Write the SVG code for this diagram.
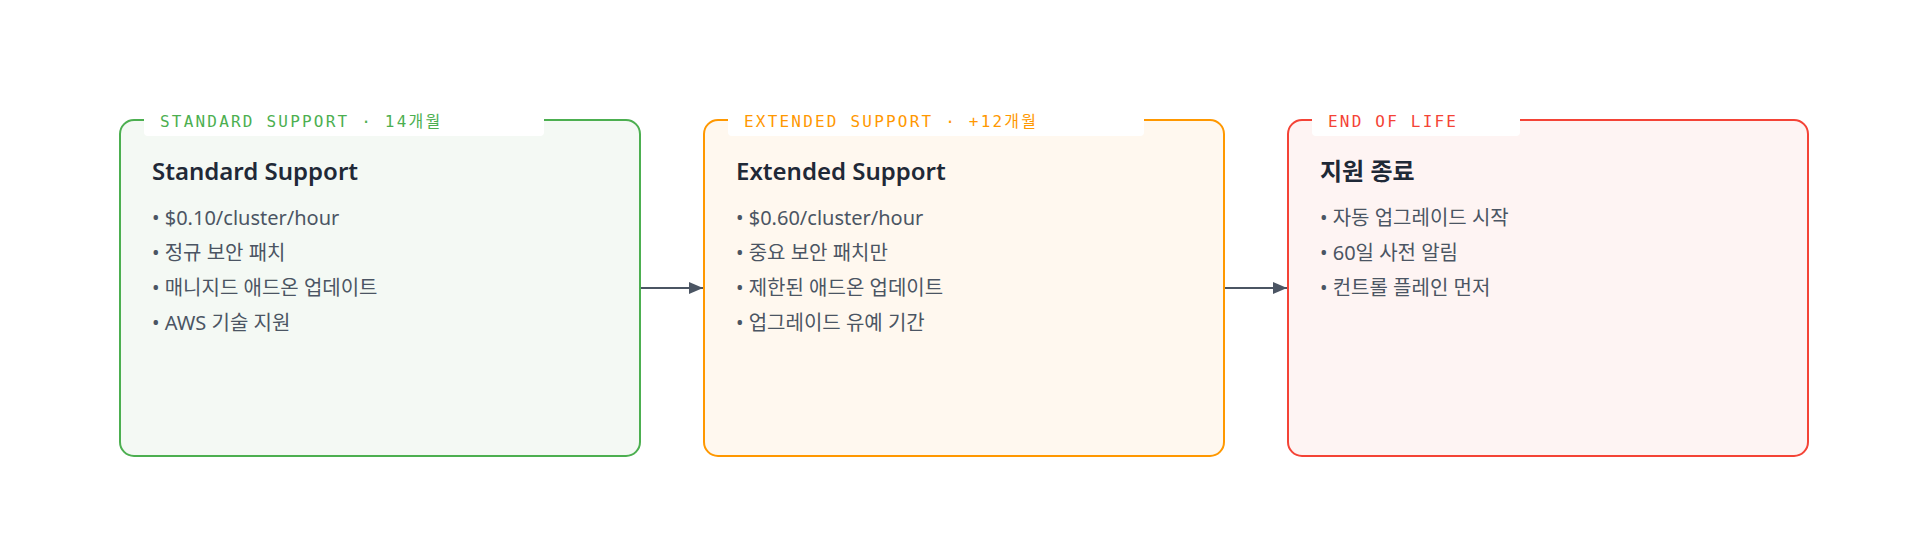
<svg xmlns="http://www.w3.org/2000/svg" width="1920" height="536" viewBox="0 0 1920 536">
  <defs>
    <style>
      .box { stroke-width: 2; }
      .tagbg { fill: #ffffff; }
      .tag { font-family: "DejaVu Sans Mono", "Noto Sans CJK KR", monospace; font-size: 16px; letter-spacing: 2.2px; }
      .title { font-family: "Noto Sans", "Noto Sans CJK KR", sans-serif; font-size: 24px; font-weight: 600; fill: #1f2937; }
      .item { font-family: "Noto Sans", "Noto Sans CJK KR", sans-serif; font-size: 20px; fill: #4b5563; }
      .conn { stroke: #4b5563; stroke-width: 2; fill: none; }
    </style>
    <marker id="arrow" viewBox="0 0 14 12" refX="14" refY="6" markerWidth="14" markerHeight="12" markerUnits="userSpaceOnUse" orient="auto">
      <path d="M0,0 L14,6 L0,12 Z" fill="#4b5563"/>
    </marker>
  </defs>
  <rect width="1920" height="536" fill="#ffffff"/>

  <g id="connectors">
    <line class="conn" x1="641" y1="288" x2="703" y2="288" marker-end="url(#arrow)"/>
    <line class="conn" x1="1225" y1="288" x2="1287" y2="288" marker-end="url(#arrow)"/>
  </g>

  <g id="standard">
    <rect class="box" x="120" y="120" width="520" height="336" rx="14" fill="#f4f9f4" stroke="#4caf50"/>
    <rect class="tagbg" x="144" y="108" width="400" height="28" rx="4"/>
    <text class="tag" x="160" y="126.5" fill="#4caf50">STANDARD SUPPORT · 14개월</text>
    <text class="title" x="152" y="180">Standard Support</text>
    <text class="item" x="152" y="225">• $0.10/cluster/hour</text>
    <text class="item" x="152" y="260">• 정규 보안 패치</text>
    <text class="item" x="152" y="295">• 매니지드 애드온 업데이트</text>
    <text class="item" x="152" y="330">• AWS 기술 지원</text>
  </g>

  <g id="extended">
    <rect class="box" x="704" y="120" width="520" height="336" rx="14" fill="#fff8ef" stroke="#ff9800"/>
    <rect class="tagbg" x="728" y="108" width="416" height="28" rx="4"/>
    <text class="tag" x="744" y="126.5" fill="#ff9800">EXTENDED SUPPORT · +12개월</text>
    <text class="title" x="736" y="180">Extended Support</text>
    <text class="item" x="736" y="225">• $0.60/cluster/hour</text>
    <text class="item" x="736" y="260">• 중요 보안 패치만</text>
    <text class="item" x="736" y="295">• 제한된 애드온 업데이트</text>
    <text class="item" x="736" y="330">• 업그레이드 유예 기간</text>
  </g>

  <g id="eol">
    <rect class="box" x="1288" y="120" width="520" height="336" rx="14" fill="#fef4f3" stroke="#f44336"/>
    <rect class="tagbg" x="1312" y="108" width="208" height="28" rx="4"/>
    <text class="tag" x="1328" y="126.5" fill="#f44336">END OF LIFE</text>
    <text class="title" x="1320" y="180" font-weight="700">지원 종료</text>
    <text class="item" x="1320" y="225">• 자동 업그레이드 시작</text>
    <text class="item" x="1320" y="260">• 60일 사전 알림</text>
    <text class="item" x="1320" y="295">• 컨트롤 플레인 먼저</text>
  </g>
</svg>
